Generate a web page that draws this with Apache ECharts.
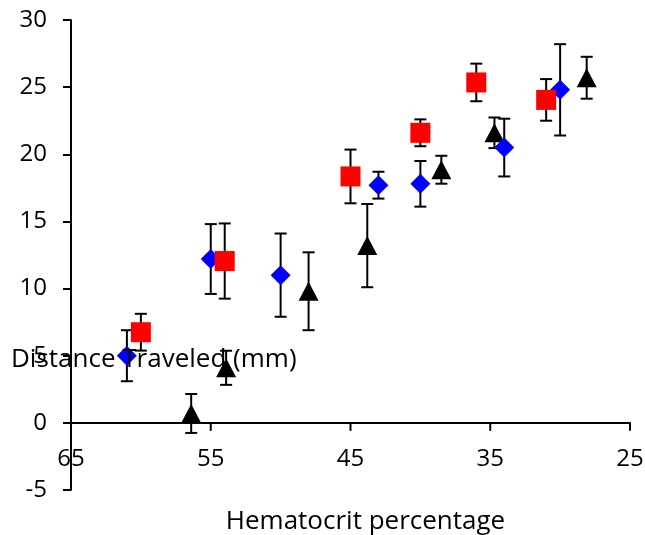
<!DOCTYPE html>
<html>
<head>
<meta charset="utf-8">
<script src="https://cdn.jsdelivr.net/npm/echarts@6/dist/echarts.min.js"></script>
<style>
  html, body { margin: 0; padding: 0; background: #fff; }
  #chart { width: 645px; height: 535px; }
</style>
</head>
<body>
<div id="chart"></div>
<script>
// Hematocrit (%) vs distance traveled (mm), three sample groups with error bars
const xTicks = [65, 55, 45, 35, 25];
const yTicks = [-5, 0, 5, 10, 15, 20, 25, 30];

const diamondX   = [61, 55, 50, 43, 40, 34, 30];
const diamondY   = [5.0, 12.2, 11.0, 17.7, 17.8, 20.5, 24.8];
const diamondErr = [1.9, 2.6, 3.1, 1.0, 1.7, 2.15, 3.4];

const squareX   = [60, 54, 45, 40, 36, 31];
const squareY   = [6.75, 12.05, 18.35, 21.6, 25.35, 24.05];
const squareErr = [1.37, 2.8, 2.0, 1.0, 1.4, 1.55];

const triangleX   = [56.4, 53.9, 48, 43.8, 38.5, 34.7, 28.1];
const triangleY   = [0.7, 4.1, 9.8, 13.2, 18.85, 21.6, 25.7];
const triangleErr = [1.45, 1.27, 2.9, 3.1, 1.04, 1.14, 1.56];

const FONT = '"Open Sans", "Noto Sans", sans-serif';

// plot area box
const GRID = { left: 71, right: 15, top: 20, bottom: 45 };
const CHART_H = 535;
const Y_MIN = -5, Y_MAX = 30;
// labels of the horizontal axis sit under the y = 0 line
const xLabelShift = -(0 - Y_MIN) / (Y_MAX - Y_MIN) * (CHART_H - GRID.top - GRID.bottom);

function points(xs, ys) { return xs.map((x, i) => [x, ys[i]]); }
function bars(xs, ys, es) { return xs.map((x, i) => [x, ys[i] - es[i], ys[i] + es[i]]); }

function renderErr(params, api) {
  const x = api.value(0);
  const lo = api.coord([x, api.value(1)]);
  const hi = api.coord([x, api.value(2)]);
  const half = 6;
  const style = { stroke: '#000', lineWidth: 2 };
  return {
    type: 'group',
    children: [
      { type: 'line', shape: { x1: lo[0], y1: lo[1], x2: hi[0], y2: hi[1] }, style },
      { type: 'line', shape: { x1: lo[0] - half, y1: lo[1], x2: lo[0] + half, y2: lo[1] }, style },
      { type: 'line', shape: { x1: hi[0] - half, y1: hi[1], x2: hi[0] + half, y2: hi[1] }, style }
    ]
  };
}

// short downward tick marks on the y = 0 axis line
function renderXTick(params, api) {
  const p = api.coord([api.value(0), api.value(1)]);
  return {
    type: 'line',
    shape: { x1: p[0], y1: p[1], x2: p[0], y2: p[1] + 8 },
    style: { stroke: '#000', lineWidth: 2 }
  };
}

function errSeries(xs, ys, es) {
  return {
    type: 'custom',
    renderItem: renderErr,
    encode: { x: 0, y: [1, 2] },
    data: bars(xs, ys, es),
    z: 1,
    silent: true
  };
}

const chart = echarts.init(document.getElementById('chart'), null, { renderer: 'canvas' });
chart.setOption({
  animation: false,
  backgroundColor: '#fff',
  grid: Object.assign({ containLabel: false, outerBoundsMode: 'none' }, GRID),
  xAxis: [
    {
      // axis line crossing at y = 0
      type: 'value',
      min: 25, max: 65,
      inverse: true,
      axisLine: { onZero: true, lineStyle: { color: '#000', width: 2 } },
      axisTick: { show: false },
      axisLabel: { show: false },
      splitLine: { show: false }
    },
    {
      // tick labels and title
      type: 'value',
      min: 25, max: 65,
      inverse: true,
      position: 'bottom',
      offset: xLabelShift,
      name: 'Hematocrit percentage',
      nameLocation: 'middle',
      nameGap: 86,
      nameTextStyle: { fontFamily: FONT, fontSize: 26, color: '#000', padding: [0, 0, 0, 30] },
      axisLine: { show: false, onZero: false },
      axisTick: { show: false },
      axisLabel: { customValues: xTicks, margin: 24, fontFamily: FONT, fontSize: 24, color: '#000' },
      splitLine: { show: false }
    }
  ],
  yAxis: {
    type: 'value',
    min: Y_MIN, max: Y_MAX, interval: 5,
    axisLine: { show: true, onZero: false, lineStyle: { color: '#000', width: 2 } },
    axisTick: { show: true, length: 8, customValues: yTicks, lineStyle: { color: '#000', width: 2 } },
    axisLabel: { customValues: yTicks, margin: 24, fontFamily: FONT, fontSize: 24, color: '#000' },
    splitLine: { show: false }
  },
  graphic: [{
    type: 'text',
    x: 11, y: 360,
    z: 100,
    style: {
      text: 'Distance Traveled (mm)',
      font: '26px ' + FONT,
      fill: '#000',
      verticalAlign: 'middle'
    }
  }],
  series: [
    {
      type: 'custom',
      renderItem: renderXTick,
      encode: { x: 0, y: 1 },
      data: xTicks.map(v => [v, 0]),
      clip: false,
      z: 5,
      silent: true
    },
    errSeries(triangleX, triangleY, triangleErr),
    errSeries(diamondX, diamondY, diamondErr),
    errSeries(squareX, squareY, squareErr),
    {
      type: 'scatter', symbol: 'triangle', symbolSize: [20, 19],
      itemStyle: { color: '#000', opacity: 1 },
      data: points(triangleX, triangleY), z: 2
    },
    {
      type: 'scatter', symbol: 'diamond', symbolSize: [20, 20],
      itemStyle: { color: '#0000ff', opacity: 1 },
      data: points(diamondX, diamondY), z: 3
    },
    {
      type: 'scatter', symbol: 'rect', symbolSize: [20, 20],
      itemStyle: { color: '#ff0000', opacity: 1 },
      data: points(squareX, squareY), z: 4
    }
  ]
});
</script>
</body>
</html>
